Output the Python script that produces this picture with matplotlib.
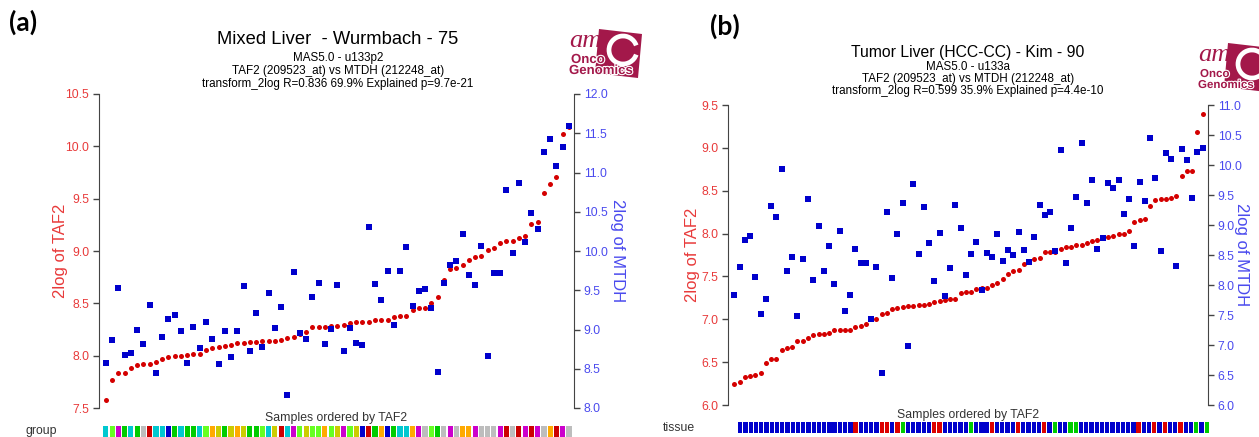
import matplotlib
matplotlib.use("Agg")
import matplotlib.pyplot as plt
import matplotlib.patheffects as pe
from matplotlib.patches import Polygon, Arc

# ---- panel (a): Mixed Liver - Wurmbach - 75 ----
taf2_a = [7.58, 7.77, 7.83, 7.83, 7.88, 7.91, 7.92, 7.92, 7.94, 7.97,
          7.99, 8.00, 8.00, 8.01, 8.02, 8.02, 8.05, 8.07, 8.08, 8.09,
          8.10, 8.12, 8.12, 8.13, 8.13, 8.14, 8.14, 8.14, 8.15, 8.17,
          8.18, 8.21, 8.23, 8.27, 8.27, 8.27, 8.28, 8.28, 8.29, 8.31,
          8.32, 8.32, 8.32, 8.34, 8.34, 8.34, 8.37, 8.38, 8.38, 8.44,
          8.46, 8.46, 8.50, 8.56, 8.72, 8.83, 8.84, 8.87, 8.91, 8.94,
          8.95, 9.01, 9.03, 9.08, 9.10, 9.10, 9.12, 9.14, 9.26, 9.28,
          9.55, 9.64, 9.71, 10.12, 10.18]
mtdh_a = [8.57, 8.86, 9.53, 8.68, 8.70, 9.00, 8.82, 9.31, 8.44, 8.90,
          9.13, 9.19, 8.98, 8.57, 9.03, 8.76, 9.09, 8.88, 8.56, 8.98,
          8.65, 8.98, 9.56, 8.72, 9.21, 8.78, 9.47, 9.02, 9.29, 8.17,
          9.73, 8.96, 8.88, 9.41, 9.59, 8.81, 9.01, 9.57, 8.72, 9.02,
          8.83, 8.80, 10.31, 9.58, 9.37, 9.74, 9.06, 9.75, 10.05, 9.30,
          9.49, 9.51, 9.28, 8.46, 9.59, 9.82, 9.87, 10.22, 9.69, 9.57,
          10.07, 8.66, 9.72, 9.72, 10.78, 9.98, 10.86, 10.11, 10.49, 10.28,
          11.26, 11.43, 11.08, 11.33, 11.59]
group_a = ["cyan", "lime", "magenta", "green", "cyan", "green", "gray", "red", "cyan", "cyan",
           "blue", "green", "cyan", "green", "green", "cyan", "lime", "orange", "olive", "green",
           "olive", "orange", "olive", "green", "green", "lime", "cyan", "olive", "red", "cyan",
           "magenta", "lime", "olive", "lime", "lime", "orange", "lime", "olive", "magenta", "lime",
           "olive", "blue", "red", "green", "orange", "blue", "green", "cyan", "cyan", "orange",
           "magenta", "gray", "lime", "green", "gray", "magenta", "gray", "orange", "orange", "magenta",
           "gray", "gray", "gray", "magenta", "red", "gray", "red", "magenta", "red", "magenta",
           "gray", "orange", "red", "magenta", "gray"]

# ---- panel (b): Tumor Liver (HCC-CC) - Kim - 90 ----
taf2_b = [6.24, 6.27, 6.33, 6.34, 6.35, 6.37, 6.49, 6.54, 6.54, 6.64,
          6.67, 6.68, 6.75, 6.75, 6.78, 6.82, 6.83, 6.83, 6.84, 6.87,
          6.88, 6.88, 6.88, 6.91, 6.92, 6.94, 7.00, 7.00, 7.06, 7.07,
          7.12, 7.13, 7.14, 7.15, 7.15, 7.17, 7.17, 7.18, 7.20, 7.21,
          7.22, 7.24, 7.24, 7.31, 7.32, 7.32, 7.35, 7.36, 7.37, 7.40,
          7.42, 7.47, 7.53, 7.56, 7.58, 7.65, 7.67, 7.70, 7.71, 7.78,
          7.79, 7.79, 7.82, 7.84, 7.84, 7.87, 7.87, 7.89, 7.91, 7.92,
          7.95, 7.96, 7.97, 7.99, 8.00, 8.03, 8.13, 8.16, 8.17, 8.32,
          8.39, 8.40, 8.40, 8.42, 8.44, 8.67, 8.73, 8.73, 9.19, 9.39]
mtdh_b = [7.84, 8.30, 8.75, 8.82, 8.14, 7.52, 7.76, 9.32, 9.14, 9.93,
          8.24, 8.47, 7.49, 8.44, 9.43, 8.09, 8.99, 8.24, 8.65, 8.01,
          8.90, 7.56, 7.84, 8.60, 8.37, 8.37, 7.44, 8.30, 6.53, 9.22,
          8.12, 8.85, 9.37, 6.99, 9.69, 8.52, 9.30, 8.70, 8.06, 8.87,
          7.81, 8.29, 9.33, 8.95, 8.17, 8.52, 8.72, 7.92, 8.54, 8.47,
          8.85, 8.40, 8.59, 8.50, 8.89, 8.59, 8.39, 8.80, 9.33, 9.17,
          9.22, 8.57, 10.25, 8.37, 8.95, 9.47, 10.36, 9.37, 9.75, 8.60,
          8.79, 9.70, 9.62, 9.75, 9.18, 9.43, 8.65, 9.72, 9.40, 10.45,
          9.78, 8.57, 10.20, 10.10, 8.32, 10.26, 10.08, 9.45, 10.21, 10.28]
# B / R / G tissue classes, one letter per sample
tissue_b = list("BBBBBBBBBBBBBBBBBBBBBBRBBBBRRBRGBBBBBRRBBBBBGBBBRBBBBRBBBBRBGBBGG"
                "BBBBBBBBBBBRBBRBRBBRBBGBG")

group_colors = {"cyan": "#00c8d0", "lime": "#66ff22", "magenta": "#cc00cc",
                "green": "#00cc00", "gray": "#bdbdbd", "red": "#cc0000",
                "blue": "#0000cc", "orange": "#ffaa00", "olive": "#cccc00"}
tissue_colors = {"B": "#0000cc", "R": "#dd0000", "G": "#00cc00"}

W, H = 1259, 437
RED_TXT = "#e83a3a"
BLUE_TXT = "#4a4aee"

plt.rcParams["font.family"] = ["Liberation Sans", "DejaVu Sans"]

fig = plt.figure(figsize=(W / 100, H / 100), dpi=100)


def box(x0, y0, x1, y1):
    # pixel box (top-left origin) -> figure fraction rect
    return [x0 / W, 1 - y1 / H, (x1 - x0) / W, (y1 - y0) / H]


def ftext(x, y, s, **kw):
    fig.text(x / W, 1 - y / H, s, **kw)


def logo(dx, dy, fs=9.5):
    maroon = "#a3184a"
    sq = [(599 + dx, 29 + dy), (642 + dx, 34 + dy), (638 + dx, 78 + dy), (595 + dx, 73 + dy)]
    fig.patches.append(Polygon([(x / W, 1 - y / H) for x, y in sq], closed=True,
                               transform=fig.transFigure, facecolor=maroon,
                               edgecolor="none", zorder=1))
    fig.patches.append(Arc(((623 + dx) / W, 1 - (50 + dy) / H), 28 / W, 28 / H,
                           theta1=45, theta2=315, transform=fig.transFigure,
                           color="white", lw=3.4, zorder=2))
    ftext(569 + dx, 47 + dy, "am", family=["Liberation Serif"], style="italic",
          fontsize=19, color=maroon, va="baseline", zorder=3)
    outline = [pe.withStroke(linewidth=1.6, foreground="white")]
    ftext(571 + dx, 63 + dy, "Onco", fontsize=fs, weight="bold", color=maroon,
          va="baseline", path_effects=outline, zorder=3)
    ftext(569 + dx, 74 + dy, "Genomics", fontsize=fs, weight="bold", color=maroon,
          va="baseline", path_effects=outline, zorder=3)


def panel(rect, strip_rect, left_y, right_y, lticks, rticks, xlim, cells,
          titles, title_x, title_y, tsize, label_x, rlabel_x, samp_y, strip_name,
          strip_name_x, strip_name_y):
    ax = fig.add_axes(rect)
    ax2 = ax.twinx()
    n = len(left_y)
    xs = list(range(n))
    ax.plot(xs, left_y, "o", color="#d40000", ms=3.6, mew=0, zorder=3)
    ax2.plot(xs, right_y, "s", color="#0000cc", ms=3.8, mew=0, zorder=3)
    ax.set_xlim(*xlim)
    ax.set_ylim(lticks[0], lticks[-1])
    ax2.set_ylim(rticks[0], rticks[-1])
    ax.set_yticks(lticks)
    ax2.set_yticks(rticks)
    ax.set_yticklabels([f"{t:.1f}" for t in lticks])
    ax2.set_yticklabels([f"{t:.1f}" for t in rticks])
    ax.set_xticks([])
    for a in (ax, ax2):
        a.patch.set_visible(False)
        a.spines["top"].set_visible(False)
        a.spines["bottom"].set_visible(False)
    ax.spines["right"].set_visible(False)
    ax2.spines["left"].set_visible(False)
    ax.spines["left"].set_color("#444444")
    ax2.spines["right"].set_color("#444444")
    ax.tick_params(axis="y", direction="out", length=4, width=1, color="#444444",
                   labelcolor=RED_TXT, labelsize=8.8, pad=3)
    ax2.tick_params(axis="y", direction="out", length=4, width=1, color="#444444",
                    labelcolor=BLUE_TXT, labelsize=8.8, pad=3)
    for ln in ax.lines + ax2.lines:
        ln.set_clip_on(False)

    cy = 1 - (rect[1] + rect[3] / 2)
    ftext(label_x, cy * H, "2log of TAF2", rotation=90, color=RED_TXT,
          fontsize=12, ha="center", va="center")
    ftext(rlabel_x, cy * H, "2log of MTDH", rotation=270, color=BLUE_TXT,
          fontsize=12, ha="center", va="center")

    ftext(title_x, title_y[0], titles[0], fontsize=tsize, ha="center", va="center")
    for t, y in zip(titles[1:], title_y[1:]):
        ftext(title_x, y, t, fontsize=8.4, ha="center", va="center")

    mid = (rect[0] + rect[2] / 2) * W
    ftext(mid, samp_y, "Samples ordered by TAF2", fontsize=8.8, color="#333333",
          ha="center", va="center")
    ftext(strip_name_x, strip_name_y, strip_name, fontsize=8.8, color="#333333",
          ha="left", va="center")

    sax = fig.add_axes(strip_rect)
    sax.bar(xs, 1, width=0.82, bottom=0, color=cells, edgecolor="none")
    sax.set_xlim(*xlim)
    sax.set_ylim(0, 1)
    sax.axis("off")


panel(box(99, 94, 574, 408), box(99, 426, 574, 437), taf2_a, mtdh_a,
      [7.5, 8.0, 8.5, 9.0, 9.5, 10.0, 10.5],
      [8.0, 8.5, 9.0, 9.5, 10.0, 10.5, 11.0, 11.5, 12.0],
      (-1.1, 74.8), [group_colors[g] for g in group_a],
      ["Mixed Liver  - Wurmbach - 75", "MAS5.0 - u133p2",
       "TAF2 (209523_at) vs MTDH (212248_at)",
       "transform_2log R=0.836 69.9% Explained p=9.7e-21"],
      338, [40, 58, 71, 84], 13.2, 61, 618, 418, "group", 25, 431)

panel(box(728, 105, 1208, 405), box(734, 422, 1212, 433), taf2_b, mtdh_b,
      [6.0, 6.5, 7.0, 7.5, 8.0, 8.5, 9.0, 9.5],
      [6.0, 6.5, 7.0, 7.5, 8.0, 8.5, 9.0, 9.5, 10.0, 10.5, 11.0],
      (-1.2, 90.0), [tissue_colors[t] for t in tissue_b],
      ["Tumor Liver (HCC-CC) - Kim - 90", "MAS5.0 - u133a",
       "TAF2 (209523_at) vs MTDH (212248_at)",
       "transform_2log R=0.599 35.9% Explained p=4.4e-10"],
      968, [52, 67, 79, 91], 11.3, 692, 1241, 415, "tissue", 663, 428)

logo(0, 0)
logo(629, 14, fs=8.3)

ftext(9, 22, "(a)", fontsize=19, weight="bold", family=["Lato", "Liberation Sans"],
      va="center")
ftext(710, 26, "(b)", fontsize=19, weight="bold", family=["Lato", "Liberation Sans"],
      va="center")

fig.savefig("out.png", dpi=100)
